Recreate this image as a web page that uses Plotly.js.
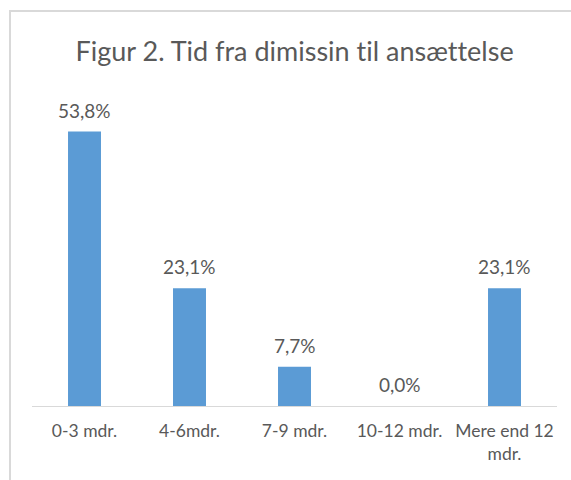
<!DOCTYPE html>
<html>
<head>
<meta charset="utf-8">
<script src="https://cdn.plot.ly/plotly-3.0.1.min.js"></script>
<style>
  html, body { margin: 0; padding: 0; background: #ffffff; }
  #wrap { position: relative; width: 571px; height: 480px; overflow: hidden; }
  #chart { position: absolute; left: 0; top: 0; width: 571px; height: 480px; }
  #frame { position: absolute; left: 9px; top: 10px; width: 600px; height: 500px;
           border-left: 2px solid #d9d9d9; border-top: 2px solid #d9d9d9; pointer-events: none; }
  svg text { font-variant-ligatures: none; font-feature-settings: "liga" 0, "clig" 0; }
</style>
</head>
<body>
<div id="wrap">
  <div id="chart"></div>
  <div id="frame"></div>
</div>
<script>
const categories = ["0-3 mdr.", "4-6mdr.", "7-9 mdr.", "10-12 mdr.", "Mere end 12<br>mdr."];
const values = [0.538, 0.231, 0.077, 0.0, 0.231];
const labels = ["53,8%", "23,1%", "7,7%", "0,0%", "23,1%"];

const FONT = "Lato, 'Open Sans', sans-serif";
const TXT = "#595959";

const trace = {
  type: "bar",
  x: categories,
  y: values,
  marker: { color: "#5b9bd5" },
  hoverinfo: "skip"
};

const annotations = categories.map((c, i) => ({
  x: c, y: values[i], xref: "x", yref: "y",
  text: labels[i], showarrow: false,
  yanchor: "bottom", yshift: 8,
  font: { family: FONT, size: 19, color: TXT }
}));

const layout = {
  width: 571, height: 480,
  margin: { l: 32, r: 14, t: 100, b: 74 },
  paper_bgcolor: "#ffffff", plot_bgcolor: "#ffffff",
  showlegend: false,
  bargap: 0.686,
  title: {
    text: "Figur 2. Tid fra dimissin til ansættelse",
    x: 0.516, xanchor: "center", xref: "container",
    y: 0.892, yanchor: "middle", yref: "container",
    font: { family: FONT, size: 27, color: TXT }
  },
  xaxis: {
    type: "category",
    showline: true, linecolor: "#d9d9d9", linewidth: 1,
    ticks: "", showgrid: false, zeroline: false,
    tickfont: { family: FONT, size: 17.5, color: TXT },
    ticklabelstandoff: 9
  },
  yaxis: {
    range: [0, 0.6], visible: false, showgrid: false, zeroline: false, fixedrange: true
  },
  annotations: annotations
};

Plotly.newPlot("chart", [trace], layout, { displayModeBar: false, staticPlot: true });
</script>
</body>
</html>
